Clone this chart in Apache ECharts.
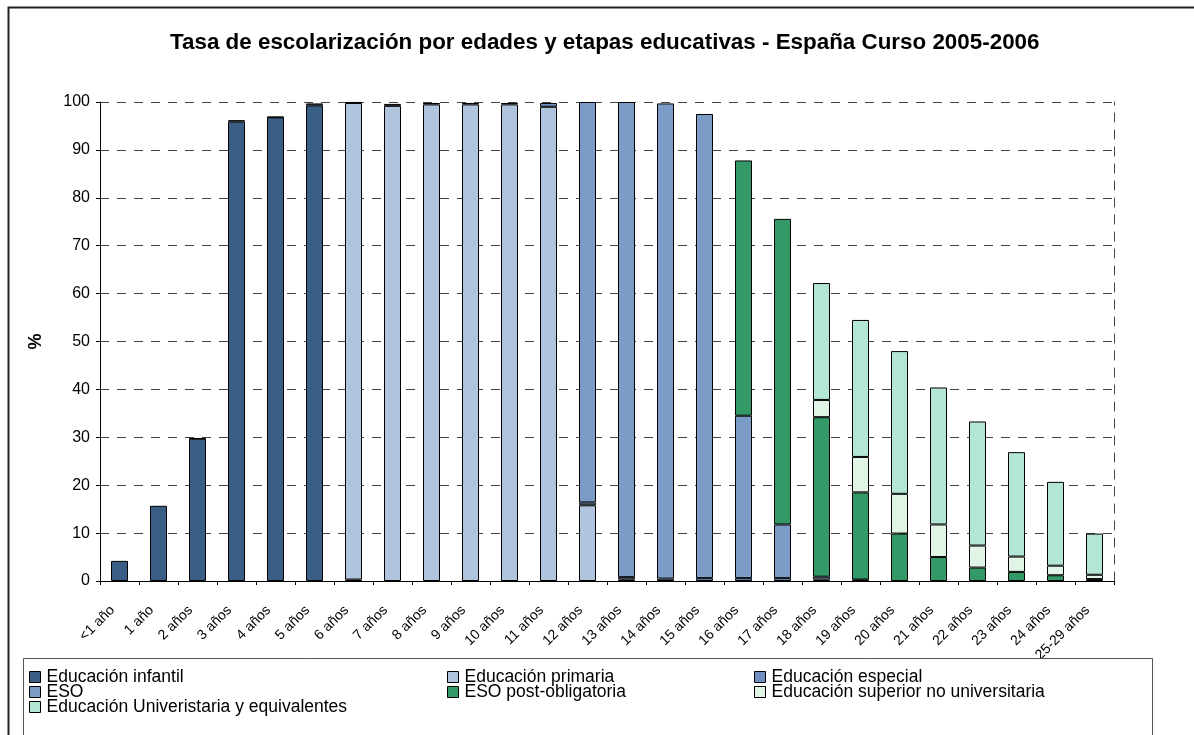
<!DOCTYPE html>
<html>
<head>
<meta charset="utf-8">
<title>Tasa de escolarización</title>
<script src="https://cdn.jsdelivr.net/npm/echarts@6/dist/echarts.min.js"></script>
<style>
  html, body { margin: 0; padding: 0; background: #fff; }
  #main { width: 1194px; height: 735px; }
</style>
</head>
<body>
<div id="main"></div>
<script type="text/javascript">
// categories (edades)
var edades = ['<1 año', '1 año', '2 años', '3 años', '4 años', '5 años', '6 años', '7 años',
  '8 años', '9 años', '10 años', '11 años', '12 años', '13 años', '14 años', '15 años',
  '16 años', '17 años', '18 años', '19 años', '20 años', '21 años', '22 años', '23 años',
  '24 años', '25-29 años'];

// % por etapa educativa, null = sin alumnos en esa etapa
var infantil = [4.2, 15.7, 29.7, 95.9, 96.8, 99.3, 0.3, null, null, null, null, null, null,
  null, null, null, null, null, null, null, null, null, null, null, null, null];
var primaria = [null, null, null, null, null, null, 99.5, 99.2, 99.5, 99.5, 99.5, 99.0, 15.8,
  0.3, null, null, null, null, null, null, null, null, null, null, null, null];
var especial = [null, null, 0.1, 0.3, 0.1, 0.4, 0.2, 0.4, 0.3, 0.3, 0.3, 0.8, 0.6,
  0.5, 0.5, 0.6, 0.6, 0.6, 0.3, 0.1, null, null, null, null, null, null];
var eso = [null, null, null, null, null, null, null, null, null, null, null, null, 83.6,
  99.2, 99.2, 96.9, 33.9, 11.2, 0.6, 0.2, null, null, null, null, null, null];
var esoPost = [null, null, null, null, null, null, null, null, null, null, null, null, null,
  null, null, null, 53.3, 63.8, 33.3, 18.2, 9.9, 5.0, 2.8, 1.9, 1.2, 0.4];
var superiorNoUniv = [null, null, null, null, null, null, null, null, null, null, null, null, null,
  null, null, null, null, null, 3.6, 7.4, 8.3, 6.8, 4.6, 3.2, 2.0, 0.9];
var universitaria = [null, null, null, null, null, null, null, null, null, null, null, null, null,
  null, null, null, null, null, 24.4, 28.6, 29.8, 28.6, 25.9, 21.8, 17.5, 8.6];

var font = "'Liberation Sans', Arial, sans-serif";

function serie(name, data, color) {
  return {
    name: name,
    type: 'bar',
    stack: 'total',
    barWidth: 17,
    data: data,
    itemStyle: { color: color, borderColor: '#000', borderWidth: 1 }
  };
}

function leyenda(left, items) {
  return {
    orient: 'vertical', left: left, top: 668, padding: 0, itemGap: -3, z: 20,
    itemWidth: 11, itemHeight: 11, icon: 'rect',
    itemStyle: { borderColor: '#000', borderWidth: 1 },
    textStyle: { fontSize: 17.5, lineHeight: 15, color: '#000', fontFamily: font, padding: [0, 0, 0, 1] },
    data: items
  };
}

var myChart = echarts.init(document.getElementById('main'));

var option = {
  animation: false,
  textStyle: { fontFamily: font },
  title: {
    text: 'Tasa de escolarización por edades y etapas educativas - España Curso 2005-2006',
    left: 170,
    top: 32,
    padding: 0,
    textStyle: { fontSize: 22.4, fontWeight: 'bold', color: '#000', fontFamily: font }
  },
  grid: { left: 100, right: 80, top: 102, bottom: 154 },
  xAxis: {
    type: 'category',
    data: edades,
    axisLine: { lineStyle: { color: '#000', width: 1 } },
    axisTick: { show: true, length: 4, lineStyle: { color: '#000' } },
    axisLabel: {
      rotate: 45, fontSize: 14, color: '#000', margin: 20, interval: 0,
      fontFamily: font, padding: [0, 10, 0, 0]
    }
  },
  yAxis: [
    {
      type: 'value',
      min: 0,
      max: 100,
      interval: 10,
      name: '%',
      nameLocation: 'middle',
      nameGap: 55,
      nameTextStyle: { fontSize: 18, fontWeight: 'bold', color: '#000', fontFamily: font },
      axisLine: { show: true, lineStyle: { color: '#000', width: 1 } },
      axisTick: { show: true, length: 4, lineStyle: { color: '#000' } },
      axisLabel: { fontSize: 16, color: '#000', margin: 10, fontFamily: font },
      splitLine: { lineStyle: { color: '#444', type: [9, 8], width: 1 } }
    },
    {
      // borde derecho discontinuo del área de trazado
      type: 'value',
      position: 'right',
      min: 0,
      max: 100,
      interval: 10,
      axisLine: { show: true, lineStyle: { color: '#444', type: [9, 8], width: 1 } },
      axisTick: { show: false },
      axisLabel: { show: false },
      splitLine: { show: false }
    }
  ],
  legend: [
    leyenda(29, ['Educación infantil', 'ESO', 'Educación Univeristaria y equivalentes']),
    leyenda(447, ['Educación primaria', 'ESO post-obligatoria']),
    leyenda(754, ['Educación especial', 'Educación superior no universitaria'])
  ],
  graphic: [
    {
      type: 'rect', left: 6, top: 5, z: 1,
      shape: { width: 1200, height: 740 },
      style: { fill: 'none', stroke: '#222', lineWidth: 2 }
    },
    {
      type: 'rect', left: 23, top: 658, z: 15,
      shape: { width: 1129, height: 90 },
      style: { fill: '#fff', stroke: '#555', lineWidth: 1 }
    }
  ],
  series: [
    serie('Educación infantil', infantil, '#3b5e86'),
    serie('Educación primaria', primaria, '#b0c4de'),
    serie('Educación especial', especial, '#6e8fbf'),
    serie('ESO', eso, '#7a9cc6'),
    serie('ESO post-obligatoria', esoPost, '#339966'),
    serie('Educación superior no universitaria', superiorNoUniv, '#e1f5e6'),
    serie('Educación Univeristaria y equivalentes', universitaria, '#b3e6d5')
  ]
};

myChart.setOption(option);
</script>
</body>
</html>
